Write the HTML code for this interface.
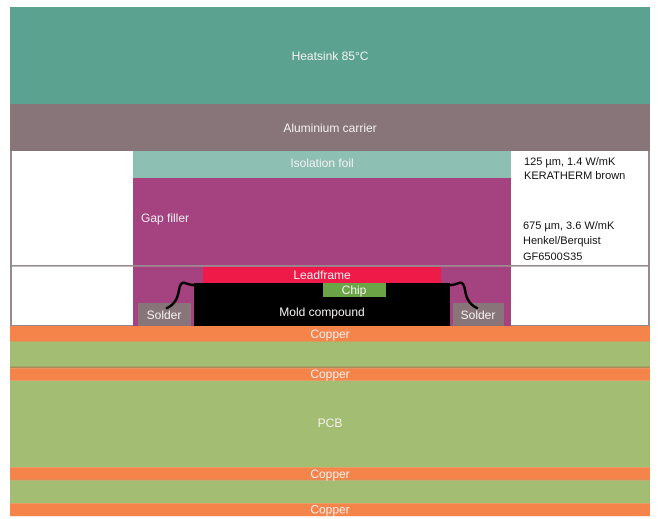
<!DOCTYPE html>
<html><head><meta charset="utf-8"><style>
html,body{margin:0;padding:0;background:#fff;}
svg{display:block;}
text{font-family:"Liberation Sans",Arial,sans-serif;font-size:12px;}
.w{fill:#f4f0f2;}
.b{fill:#111;font-size:11px;}
</style></head><body>
<svg width="658" height="519" viewBox="0 0 658 519" xmlns="http://www.w3.org/2000/svg">
<rect x="0" y="0" width="658" height="519" fill="#fff"/>
<!-- heatsink -->
<rect x="10" y="7" width="640" height="97" fill="#5ba390"/>
<text class="w" x="330" y="60" text-anchor="middle">Heatsink 85°C</text>
<!-- aluminium -->
<rect x="10" y="104" width="640" height="47" fill="#877579"/>
<text class="w" x="330" y="132" text-anchor="middle">Aluminium carrier</text>
<!-- mid region border -->
<rect x="10" y="151" width="640" height="175" fill="#978a8e"/>
<rect x="12" y="151" width="636" height="174" fill="#fff"/>
<!-- isolation -->
<rect x="133" y="151" width="378" height="27" fill="#8dbfb2"/>
<text class="w" x="322" y="167" text-anchor="middle">Isolation foil</text>
<!-- gap filler -->
<rect x="133" y="178" width="378" height="87" fill="#a54280"/>
<text class="w" x="141" y="222">Gap filler</text>
<!-- separator line -->
<rect x="10" y="265" width="640" height="1.6" fill="#978a8e"/>
<rect x="133" y="266.6" width="378" height="59.4" fill="#a54280"/>
<!-- leadframe -->
<rect x="203" y="267" width="238" height="16" fill="#ef1a47"/>
<text class="w" x="322" y="279" text-anchor="middle">Leadframe</text>
<!-- mold -->
<rect x="194" y="283" width="256" height="43" fill="#000"/>
<rect x="323" y="283" width="63" height="14" fill="#6ba446"/>
<text class="w" x="354" y="294" text-anchor="middle">Chip</text>
<text class="w" x="322" y="316" text-anchor="middle">Mold compound</text>
<!-- solder -->
<rect x="138" y="303" width="53" height="23" fill="#877579"/>
<text class="w" x="164" y="319" text-anchor="middle">Solder</text>
<rect x="453" y="303" width="51" height="23" fill="#877579"/>
<text class="w" x="478" y="319" text-anchor="middle">Solder</text>
<!-- wires -->
<path d="M167,308 C176,304 178,296 179,290 C180,284 182,282 185,283 C188,284 190,285 194,285" fill="none" stroke="#000" stroke-width="2.5" stroke-linecap="round"/>
<path d="M450,285 C454,285 456,284 459,283 C462,282 464,284 465,290 C466,296 468,304 477,308" fill="none" stroke="#000" stroke-width="2.5" stroke-linecap="round"/>
<!-- right labels -->
<text class="b" x="524" y="165">125 µm, 1.4 W/mK</text>
<text class="b" x="524" y="179">KERATHERM brown</text>
<text class="b" x="523" y="229">675 µm, 3.6 W/mK</text>
<text class="b" x="523" y="244">Henkel/Berquist</text>
<text class="b" x="523" y="260">GF6500S35</text>
<!-- PCB stack -->
<rect x="10" y="326" width="640" height="15.5" fill="#f48449"/>
<text class="w" x="330" y="338" text-anchor="middle">Copper</text>
<rect x="10" y="341.5" width="640" height="25.5" fill="#a3bd72"/>
<rect x="10" y="366.5" width="640" height="1.8" fill="#a98c58"/>
<rect x="10" y="368.3" width="640" height="12.5" fill="#f48449"/>
<text class="w" x="330" y="378" text-anchor="middle">Copper</text>
<rect x="10" y="380.8" width="640" height="86.5" fill="#a3bd72"/>
<text class="w" x="330" y="427" text-anchor="middle">PCB</text>
<rect x="10" y="467.3" width="640" height="12.7" fill="#f48449"/>
<rect x="10" y="479.5" width="640" height="1.3" fill="#c9935c"/>
<text class="w" x="330" y="478" text-anchor="middle">Copper</text>
<rect x="10" y="480.8" width="640" height="22.5" fill="#a3bd72"/>
<rect x="10" y="503.3" width="640" height="12.9" fill="#f48449"/>
<text class="w" x="330" y="513.5" text-anchor="middle">Copper</text>
</svg>
</body></html>
